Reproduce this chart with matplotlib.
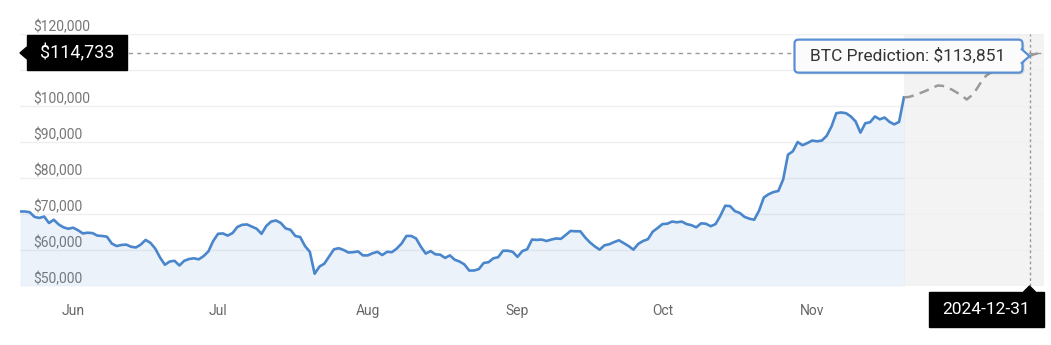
import matplotlib
matplotlib.use("Agg")
import matplotlib.pyplot as plt
import matplotlib.dates as mdates
import matplotlib.transforms as mtransforms
from matplotlib.patches import Polygon, Rectangle, FancyBboxPatch
import pandas as pd

plt.rcParams["font.family"] = ["Roboto", "DejaVu Sans"]

# daily BTC close, starting 2024-06-05
price = [
    70700, 70700, 70500, 69200, 68900, 69300, 67500, 68400, 67100, 66300,
    65900, 66200, 65500, 64600, 64800, 64700, 64000, 63900, 63700, 61800,
    61100, 61400, 61500, 60900, 60700, 61500, 62800, 62000, 60400, 57900,
    55900, 56800, 57000, 55700, 57000, 57500, 57700, 57400, 58300, 59600,
    62500, 64500, 64600, 64000, 64700, 66400, 67000, 67100, 66500, 65900,
    64500, 66700, 67900, 68200, 67500, 66000, 65600, 63900, 63600, 61100,
    59500, 53400, 55400, 56200, 58200, 60200, 60500, 60000, 59300, 59400,
    59600, 58500, 58500, 59100, 59500, 58600, 59500, 59400, 60400, 61800,
    63900, 63900, 63200, 60900, 59000, 59700, 58800, 58700, 57800, 58500,
    57300, 56800, 56000, 54300, 54300, 54700, 56400, 56600, 57700, 58000,
    59800, 59800, 59500, 58100, 59700, 60200, 62900, 62800, 62900, 62500,
    62900, 63200, 63100, 64200, 65300, 65200, 65200, 63500, 62100, 61000,
    60100, 61300, 61600, 62200, 62700, 61900, 61100, 60100, 61700, 62500,
    63000, 65100, 66100, 67200, 67300, 67900, 67700, 67900, 67200, 66900,
    66300, 67400, 67300, 66600, 67200, 69500, 72300, 72200, 70800, 70300,
    69200, 68700, 68400, 70900, 74600, 75500, 76100, 76400, 79600, 86500,
    87400, 90000, 89100, 89700, 90400, 90200, 90400, 91700, 94300, 98000,
    98200, 98000, 97100, 95700, 92600, 95200, 95500, 97100, 96300, 96800,
    95600, 94900, 95600, 102400,
]
# forecast from 2024-12-05
pred = [
    102400, 102500, 102900, 103400, 103900, 104500, 105100, 105700, 105600, 105100,
    104500, 103700, 102900, 101800, 102900, 104600, 106700, 108400, 109300, 110000,
    110600, 111000, 111500, 112000, 112600, 113200, 113851, 114400, 114700, 114800,
]
dates = pd.date_range("2024-06-05", periods=len(price), freq="D")
pred_dates = pd.date_range("2024-12-05", periods=len(pred), freq="D")

months = ["Jun", "Jul", "Aug", "Sep", "Oct", "Nov"]
month_pos = pd.to_datetime(["2024-06-16", "2024-07-16", "2024-08-16",
                            "2024-09-16", "2024-10-16", "2024-11-16"])
y_ticks = list(range(50000, 120001, 10000))

hover_date = pd.Timestamp("2024-12-31")
hover_value = 113851
cross_value = 114733

fig = plt.figure(figsize=(10.51, 3.45), dpi=100)
ax = fig.add_axes([20 / 1051, 59 / 345, 1024 / 1051, 252 / 345])

ax.axvspan(pred_dates[0], pred_dates[-1], color="#f3f3f3", lw=0, zorder=0)
ax.fill_between(dates, price, 50000, color="#4a86cc", alpha=0.1, lw=0, zorder=2)
ax.plot(dates, price, color="#4a86cc", lw=1.9, solid_joinstyle="round", zorder=3)
ax.plot(pred_dates, pred, color="#9a9a9a", lw=1.8, dashes=(4, 2.5), zorder=3)

ax.set_xlim(dates[0], pred_dates[-1])
ax.set_ylim(50000, 120000)
for s in ax.spines.values():
    s.set_visible(False)

# the $110,000 label sits under the crosshair box in the original
ax.set_yticks(y_ticks)
ax.set_yticklabels(["" if v == 110000 else "${:,.0f}".format(v) for v in y_ticks])
ax.grid(axis="y", color="#efefef", lw=1)
ax.set_axisbelow(True)
ax.tick_params(axis="y", length=0, pad=-9.4, labelsize=10, labelcolor="#777777")
for t in ax.yaxis.get_major_ticks():
    t.label1.set_horizontalalignment("left")
    t.label1.set_verticalalignment("bottom")

ax.set_xticks(month_pos)
ax.set_xticklabels(months)
ax.tick_params(axis="x", length=0, pad=13, labelsize=10, labelcolor="#666666")

# crosshair
ax.axvline(hover_date, color="#999999", lw=1, dashes=(2, 2), zorder=4)
ax.axhline(cross_value, color="#999999", lw=1, dashes=(3, 3), zorder=4)


def local(xd, yd):
    # pixel offsets around a data point
    return mtransforms.Affine2D().scale(fig.dpi / 100) + \
        mtransforms.ScaledTranslation(xd, yd, ax.transData)


# y crosshair label
tr = local(mdates.date2num(dates[0]), cross_value)
ax.add_patch(Polygon([(0, 0), (7, 6), (7, -6)], closed=True, color="black",
                     transform=tr, clip_on=False, zorder=6))
ax.add_patch(Rectangle((7, -17.5), 100, 35, color="black",
                       transform=tr, clip_on=False, zorder=6))
ax.text(57, 0, "${:,.0f}".format(cross_value), transform=tr, color="white",
        fontsize=13, ha="center", va="center", zorder=7)

# tooltip
tr = local(mdates.date2num(hover_date), hover_value)
ax.add_patch(FancyBboxPatch((-233, -18.5), 228, 33, boxstyle="round,pad=0,rounding_size=4",
                            facecolor="#00000018", edgecolor="none",
                            transform=tr, clip_on=False, zorder=6))
ax.add_patch(FancyBboxPatch((-235, -16.5), 228, 33, boxstyle="round,pad=0,rounding_size=4",
                            facecolor="#fbfbfb", edgecolor="#5b8fd3", lw=1.6,
                            transform=tr, clip_on=False, zorder=6))
ax.add_patch(Polygon([(-8.6, 7.6), (0, 0), (-8.6, -7.6)], closed=False,
                     facecolor="#fbfbfb", edgecolor="#5b8fd3", lw=1.6,
                     transform=tr, clip_on=False, zorder=6))
ax.text(-122, 0, "BTC Prediction: ${:,.0f}".format(hover_value), transform=tr,
        color="#333333", fontsize=12.5, ha="center", va="center", zorder=7)

# x crosshair label
tr = local(mdates.date2num(hover_date), 50000)
ax.add_patch(Polygon([(0, 0), (6, -6), (-6, -6)], closed=True, color="black",
                     transform=tr, clip_on=False, zorder=6))
ax.add_patch(Rectangle((-101, -41), 115, 35, color="black",
                       transform=tr, clip_on=False, zorder=6))
ax.text(-43.5, -23.5, hover_date.strftime("%Y-%m-%d"), transform=tr, color="white",
        fontsize=12.5, ha="center", va="center", zorder=7)

fig.savefig("out.png", dpi=100)
